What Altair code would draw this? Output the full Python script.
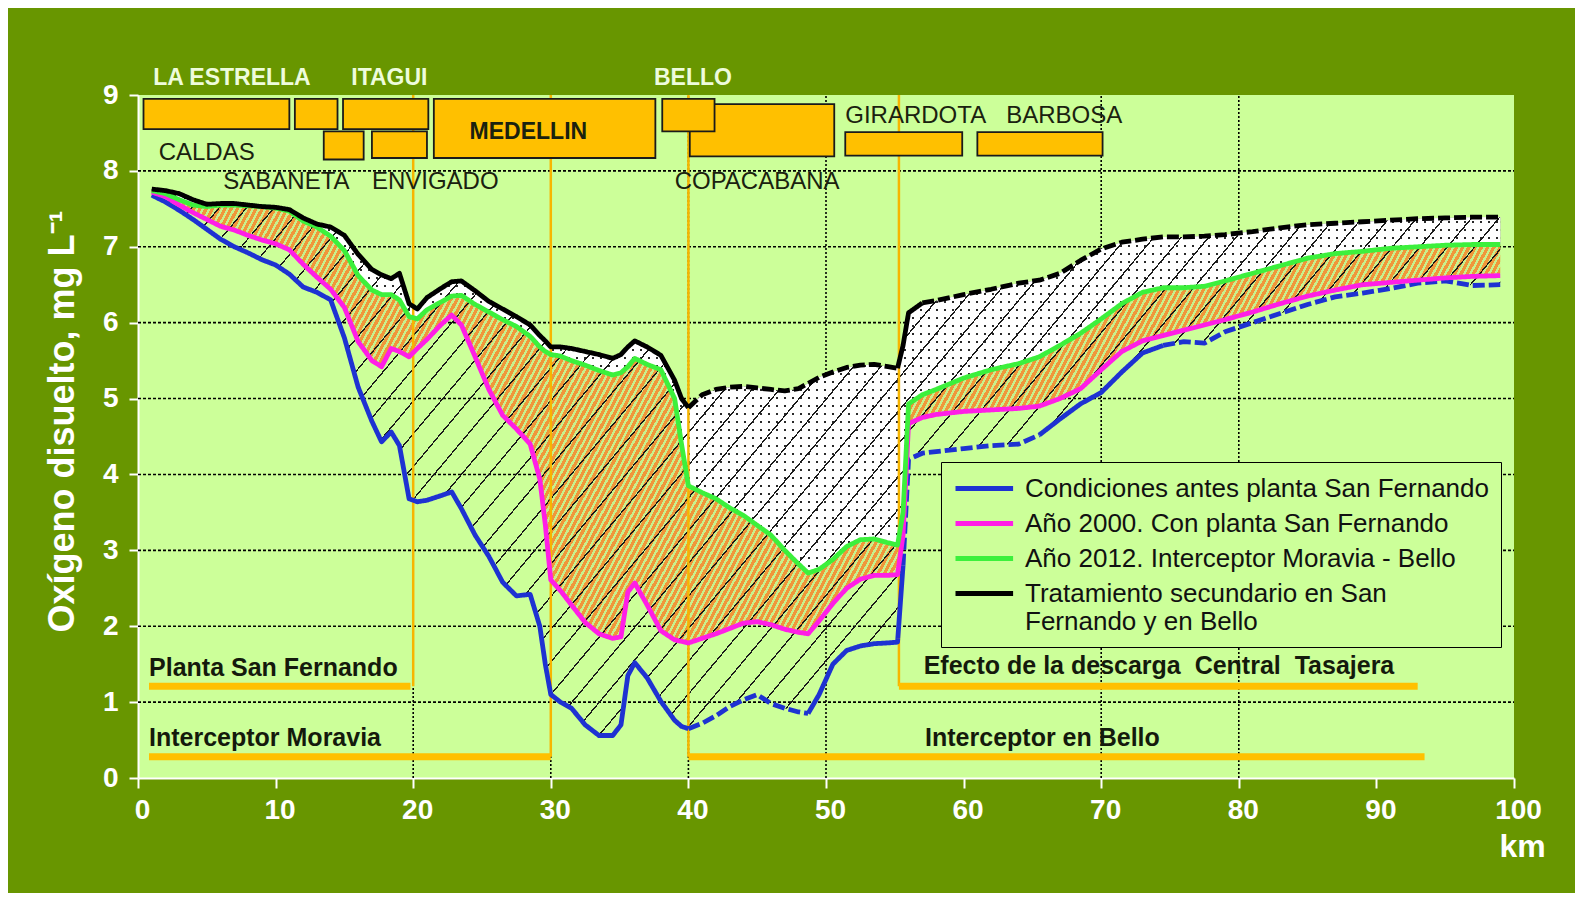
import math
import altair as alt
import pandas as pd

# ---------------- data ----------------
KM = [1, 2, 3, 4, 5, 6, 7, 8, 9, 10, 11, 12, 13, 14, 15, 16, 17,
      17.7, 18.4, 19, 19.7, 20.3, 21, 22, 22.8, 23.5, 24.5, 25.5, 26.5, 27.5, 28.5,
      29.2, 29.6, 30, 30.7, 31.5, 32.5, 33.5, 34.5, 35.1, 35.6, 36.1, 37, 38, 39, 39.5, 40,
      41, 42, 43, 44, 45, 46, 47, 48,
      48.7, 49.5, 50.5, 51.5, 52.5, 53.5, 54.5, 55.2, 55.6, 56, 57, 58,
      60, 62, 64, 65.5, 67, 68.5, 70, 71.5, 73, 74.5, 76, 77.5, 79,
      81, 83, 85, 87, 89, 91, 93, 95, 97, 99]

BLACK = [7.76, 7.74, 7.70, 7.62, 7.56, 7.57, 7.57, 7.55, 7.53, 7.52, 7.49, 7.38, 7.30, 7.26, 7.15, 6.90, 6.70,
         6.63, 6.58, 6.65, 6.25, 6.18, 6.33, 6.45, 6.54, 6.55, 6.42, 6.28, 6.18, 6.08, 5.97,
         5.83, 5.76, 5.68, 5.68, 5.66, 5.62, 5.58, 5.53, 5.58, 5.68, 5.76, 5.68, 5.57, 5.24, 5.00, 4.88,
         5.05, 5.12, 5.15, 5.16, 5.14, 5.12, 5.10, 5.13,
         5.20, 5.28, 5.35, 5.41, 5.44, 5.45, 5.42, 5.40, 5.70, 6.13, 6.26, 6.29,
         6.37, 6.44, 6.52, 6.56, 6.65, 6.82, 6.97, 7.06, 7.10, 7.13, 7.13, 7.14, 7.16,
         7.20, 7.25, 7.29, 7.31, 7.33, 7.35, 7.37, 7.38, 7.39, 7.39]

GREEN = [7.74, 7.70, 7.62, 7.55, 7.53, 7.55, 7.55, 7.54, 7.53, 7.51, 7.47, 7.34, 7.26, 7.14, 6.95, 6.62, 6.43,
         6.37, 6.37, 6.30, 6.08, 6.05, 6.17, 6.27, 6.35, 6.36, 6.24, 6.14, 6.04, 5.95, 5.82,
         5.68, 5.62, 5.58, 5.56, 5.50, 5.44, 5.37, 5.31, 5.34, 5.42, 5.53, 5.45, 5.38, 5.00, 4.40, 3.85,
         3.76, 3.68, 3.56, 3.46, 3.33, 3.20, 3.00, 2.82,
         2.70, 2.75, 2.88, 3.05, 3.14, 3.15, 3.10, 3.07, 3.50, 4.93, 5.05, 5.12,
         5.27, 5.38, 5.46, 5.55, 5.70, 5.86, 6.05, 6.25, 6.40, 6.46, 6.46, 6.48, 6.55,
         6.65, 6.75, 6.85, 6.91, 6.94, 6.98, 7.00, 7.02, 7.03, 7.03]

MAGENTA = [7.72, 7.66, 7.55, 7.45, 7.36, 7.27, 7.22, 7.15, 7.09, 7.04, 6.96, 6.77, 6.60, 6.44, 6.20, 5.75, 5.50,
           5.42, 5.66, 5.62, 5.55, 5.66, 5.78, 5.97, 6.10, 5.97, 5.55, 5.12, 4.78, 4.60, 4.40,
           3.94, 3.34, 2.61, 2.47, 2.28, 2.05, 1.90, 1.84, 1.86, 2.45, 2.57, 2.28, 1.94, 1.82, 1.80, 1.78,
           1.84, 1.90, 1.97, 2.04, 2.06, 2.02, 1.96, 1.92,
           1.90, 2.07, 2.30, 2.50, 2.62, 2.67, 2.67, 2.68, 3.20, 4.67, 4.75, 4.79,
           4.83, 4.85, 4.87, 4.90, 5.00, 5.13, 5.38, 5.62, 5.76, 5.83, 5.90, 5.97, 6.04,
           6.14, 6.25, 6.35, 6.43, 6.50, 6.53, 6.56, 6.59, 6.61, 6.62]

BLUE = [7.68, 7.59, 7.48, 7.36, 7.23, 7.10, 7.00, 6.92, 6.83, 6.76, 6.64, 6.47, 6.40, 6.30, 5.80, 5.15, 4.70,
        4.43, 4.56, 4.38, 3.68, 3.64, 3.66, 3.72, 3.77, 3.55, 3.20, 2.92, 2.58, 2.40, 2.42,
        2.00, 1.50, 1.10, 1.00, 0.92, 0.70, 0.56, 0.56, 0.70, 1.35, 1.52, 1.32, 1.01, 0.76, 0.68, 0.65,
        0.72, 0.82, 0.94, 1.03, 1.10, 0.98, 0.92, 0.87,
        0.85, 1.10, 1.50, 1.68, 1.74, 1.77, 1.78, 1.79, 2.80, 4.20, 4.28, 4.30,
        4.34, 4.38, 4.40, 4.52, 4.73, 4.93, 5.08, 5.35, 5.60, 5.70, 5.75, 5.73, 5.88,
        6.00, 6.12, 6.24, 6.34, 6.39, 6.45, 6.52, 6.55, 6.49, 6.50]

for arr in (BLACK, GREEN, MAGENTA, BLUE):
    assert len(arr) == len(KM)

SERIES = ["Condiciones antes planta San Fernando",
          "Año 2000. Con planta San Fernando",
          "Año 2012. Interceptor Moravia - Bello",
          "Tratamiento secundario en San|Fernando y en Bello"]
SERIES_COLORS = ["#1e32d2", "#ff1ee6", "#3cf03c", "#000000"]
BLUE_DASHED = [(40, 48.7), (55.6, 65.5), (74.5, 99)]
BLACK_DASHED = [(40, 55.2), (57, 99)]

# municipality boxes (km from, km to, y from, y to) -- drawn in this order
BOX_X0 = [0.4, 11.4, 14.9, 13.5, 17.0, 21.5, 40.1, 38.1, 51.4, 61.0]
BOX_X1 = [11.0, 14.5, 21.1, 16.4, 21.0, 37.6, 50.6, 41.9, 59.9, 70.1]
BOX_Y0 = [8.55, 8.55, 8.55, 8.15, 8.17, 8.17, 8.19, 8.52, 8.20, 8.20]
BOX_Y1 = [8.95, 8.95, 8.95, 8.52, 8.52, 8.95, 8.88, 8.95, 8.51, 8.51]

WHITE_LABELS = ["LA ESTRELLA", "ITAGUI", "BELLO"]
WHITE_X = [1.1, 15.5, 37.5]
WHITE_Y = [9.22, 9.22, 9.22]

MUNI_LABELS = ["CALDAS", "SABANETA", "ENVIGADO", "COPACABANA", "GIRARDOTA", "BARBOSA"]
MUNI_X = [1.5, 6.2, 17.0, 39.0, 51.4, 63.1]
MUNI_Y = [8.24, 7.85, 7.85, 7.85, 8.72, 8.72]

NOTE_LABELS = ["Planta San Fernando", "Interceptor Moravia",
               "Efecto de la descarga\u00a0 Central\u00a0 Tasajera", "Interceptor en Bello"]
NOTE_X = [0.8, 0.8, 57.1, 57.2]
NOTE_Y = [1.45, 0.53, 1.48, 0.53]

BAR_X0 = [0.8, 0.8, 55.3, 40.0]
BAR_X1 = [19.8, 30.0, 93.0, 93.5]
BAR_Y = [1.21, 0.28, 1.21, 0.28]

VLINE_X = [20, 30, 40, 55.3]
VLINE_Y0 = [1.21, 0.28, 0.28, 1.21]

GRID_X = [20, 30, 40, 50, 70, 80]
GRID_Y = [1, 2, 3, 4, 5, 6, 7, 8]

# ---------------- layout ----------------
W, H = 1376, 683
PX_X = W / 100.0
PX_Y = H / 9.0
BG_DARK = "#689600"
BG_LIGHT = "#ccff99"
FONT = "Liberation Sans, Arial, sans-serif"


def stripes(theta_deg, period, width, line_color, bg_color, x_lo, x_hi, y_lo, y_hi):
    """Linear gradient with hard stops that draws parallel stripes ("/" at theta)."""
    bw = (x_hi - x_lo) * PX_X
    bh = (y_hi - y_lo) * PX_Y
    th = math.radians(theta_deg)
    s, c = math.sin(th), math.cos(th)
    D = bw * s + bh * c
    k = D / (bw * bw * s * s + bh * bh * c * c)
    gx, gy = k * bw * s, k * bh * c
    stops = []
    i = 0
    while i * period <= D:
        o0 = min(1.0, i * period / D)
        o1 = min(1.0, (i * period + width) / D)
        stops += [{"offset": round(o0, 6), "color": bg_color},
                  {"offset": round(o0, 6), "color": line_color},
                  {"offset": round(o1, 6), "color": line_color},
                  {"offset": round(o1, 6), "color": bg_color}]
        i += 1
    return {"gradient": "linear", "x1": 0, "y1": 0,
            "x2": round(gx, 6), "y2": round(gy, 6), "stops": stops}


wide = pd.DataFrame({"km": KM, "black": BLACK, "green": GREEN,
                     "magenta": MAGENTA, "blue": BLUE})

rows = []
for name, ys, dashed in zip(SERIES, [BLUE, MAGENTA, GREEN, BLACK],
                            [BLUE_DASHED, [], [], BLACK_DASHED]):
    breaks = sorted(set([KM[0], KM[-1]] + [v for r in dashed for v in r]))
    for i in range(len(breaks) - 1):
        a, b = breaks[i], breaks[i + 1]
        is_d = any(a >= r[0] and b <= r[1] for r in dashed)
        for xv, yv in zip(KM, ys):
            if a <= xv <= b:
                rows.append({"km": xv, "v": yv, "serie": name,
                             "seg": f"{name}-{i}", "dash": "d" if is_d else "s"})
lines_df = pd.DataFrame(rows)

xs = alt.Scale(domain=[0, 100], nice=False, zero=False)
ys = alt.Scale(domain=[0, 9], nice=False, zero=False)

xaxis = alt.Axis(values=list(range(0, 101, 10)), grid=False, format="d",
                 labelColor="white", labelFont=FONT, labelFontSize=28, labelFontWeight="bold",
                 labelPadding=8, labelOffset=4, labelFlush=False,
                 tickColor="white", tickSize=10, tickWidth=2,
                 domainColor="white", domainWidth=2,
                 titleColor="white", titleFont=FONT, titleFontSize=32, titleFontWeight="bold",
                 titleX=1384, titleY=68, titleAlign="center", titleBaseline="middle")
yaxis = alt.Axis(values=list(range(0, 10)), grid=False, format="d",
                 labelColor="white", labelFont=FONT, labelFontSize=28, labelFontWeight="bold",
                 labelPadding=11, labelFlush=False,
                 tickColor="white", tickSize=9, tickWidth=2,
                 domainColor="white", domainWidth=2,
                 titleColor="white", titleFont=FONT, titleFontSize=36, titleFontWeight="bold",
                 titleX=-76, titleY=326, titleAlign="center", titleBaseline="middle")
XT = "km"
YT = "Oxígeno disuelto, mg L⁻¹"


def X(f):
    return alt.X(f, type="quantitative", scale=xs, axis=xaxis, title=XT)


def Y(f):
    return alt.Y(f, type="quantitative", scale=ys, axis=yaxis, title=YT)


# grid
vgrid = alt.Chart(pd.DataFrame({"x": GRID_X, "y0": [0] * len(GRID_X), "y1": [9] * len(GRID_X)})).mark_rule(
    color="black", strokeDash=[2, 2], strokeWidth=1.6).encode(x=X("x"), y=Y("y0"), y2="y1")
hgrid = alt.Chart(pd.DataFrame({"y": GRID_Y, "x0": [0] * len(GRID_Y), "x1": [100] * len(GRID_Y)})).mark_rule(
    color="black", strokeDash=[3, 2], strokeWidth=1.6).encode(y=Y("y"), x=X("x0"), x2="x1")

xlo, xhi = min(KM), max(KM)

# dotted region (between green and black): dark base + white stripes with gaps
dot_lo, dot_hi = min(GREEN), max(BLACK)
dots_base = alt.Chart(wide).mark_area(fill="#2a2a2a", opacity=1).encode(
    x=X("km"), y=Y("green"), y2="black")
dots_h = alt.Chart(wide).mark_area(
    fill=stripes(0, 8, 2.2, "rgba(255,255,255,0)", "#ffffff", xlo, xhi, dot_lo, dot_hi), opacity=1).encode(
    x=X("km"), y=Y("green"), y2="black")
dots_v = alt.Chart(wide).mark_area(
    fill=stripes(90, 8, 2.2, "rgba(255,255,255,0)", "#ffffff", xlo, xhi, dot_lo, dot_hi), opacity=1).encode(
    x=X("km"), y=Y("green"), y2="black")

# orange hatched region (between magenta and green)
orange = alt.Chart(wide).mark_area(
    fill=stripes(62, 5.5, 3.2, "#f0963a", "#c8f08c", xlo, xhi, min(MAGENTA), max(GREEN)), opacity=1).encode(
    x=X("km"), y=Y("magenta"), y2="green")

# black diagonal hatch (between blue and black)
hatch = alt.Chart(wide).mark_area(
    fill=stripes(50, 21, 1.3, "#1a1a1a", "rgba(0,0,0,0)", xlo, xhi, min(BLUE), max(BLACK)), opacity=1).encode(
    x=X("km"), y=Y("blue"), y2="black")

# orange guide lines and bars
vlines = alt.Chart(pd.DataFrame({"x": VLINE_X, "y0": VLINE_Y0, "y1": [9] * len(VLINE_X)})).mark_rule(
    color="#f7b500", strokeWidth=2.5).encode(x=X("x"), y=Y("y0"), y2="y1")
bars = alt.Chart(pd.DataFrame({"x0": BAR_X0, "x1": BAR_X1, "y": BAR_Y})).mark_rule(
    color="#ffc000", strokeWidth=7, strokeCap="butt").encode(x=X("x0"), x2="x1", y=Y("y"))

boxes = alt.Chart(pd.DataFrame({"x0": BOX_X0, "x1": BOX_X1, "y0": BOX_Y0, "y1": BOX_Y1})).mark_rect(
    fill="#ffc000", stroke="#1a1a1a", strokeWidth=1.8).encode(x=X("x0"), x2="x1", y=Y("y0"), y2="y1")

white_txt = alt.Chart(pd.DataFrame({"x": WHITE_X, "y": WHITE_Y, "t": WHITE_LABELS})).mark_text(
    align="left", baseline="middle", font=FONT, fontSize=23, fontWeight="bold", color="#eefcdc").encode(
    x=X("x"), y=Y("y"), text="t:N")
muni_txt = alt.Chart(pd.DataFrame({"x": MUNI_X, "y": MUNI_Y, "t": MUNI_LABELS})).mark_text(
    align="left", baseline="middle", font=FONT, fontSize=24, color="#1a220f").encode(
    x=X("x"), y=Y("y"), text="t:N")
med_txt = alt.Chart(pd.DataFrame({"x": [24.1], "y": [8.51], "t": ["MEDELLIN"]})).mark_text(
    align="left", baseline="middle", font=FONT, fontSize=23, fontWeight="bold", color="#1a220f").encode(
    x=X("x"), y=Y("y"), text="t:N")
note_txt = alt.Chart(pd.DataFrame({"x": NOTE_X, "y": NOTE_Y, "t": NOTE_LABELS})).mark_text(
    align="left", baseline="middle", font=FONT, fontSize=25, fontWeight="bold", color="#141a0c").encode(
    x=X("x"), y=Y("y"), text="t:N")

legend = alt.Legend(title=None, orient="none", legendX=803, legendY=367,
                    fillColor=BG_LIGHT, strokeColor="black", padding=12,
                    labelFont=FONT, labelFontSize=26, labelColor="#111111", labelLimit=1000,
                    labelOffset=43, rowPadding=7,
                    symbolType="M-1,0H3.8", symbolSize=576, symbolStrokeWidth=5,
                    labelExpr="split(datum.label, '|')")

lines = alt.Chart(lines_df).mark_line(strokeWidth=4.8, strokeJoin="round").encode(
    x=X("km"), y=Y("v"),
    color=alt.Color("serie:N", scale=alt.Scale(domain=SERIES, range=SERIES_COLORS), legend=legend),
    detail="seg:N",
    strokeDash=alt.StrokeDash("dash:N", scale=alt.Scale(domain=["s", "d"], range=[[1, 0], [12, 4]]),
                              legend=None),
    order=alt.Order("km:Q"))

chart = alt.layer(vgrid, hgrid, dots_base, dots_h, dots_v, orange, hatch, vlines, bars, boxes,
                  white_txt, muni_txt, med_txt, note_txt, lines).properties(
    width=W, height=H, autosize="none",
    padding={"left": 130, "top": 87, "right": 61, "bottom": 115}).configure(
    background=BG_DARK).configure_view(fill=BG_LIGHT, stroke=None)

chart.save("out.html", embed_options={"renderer": "svg", "actions": False})
